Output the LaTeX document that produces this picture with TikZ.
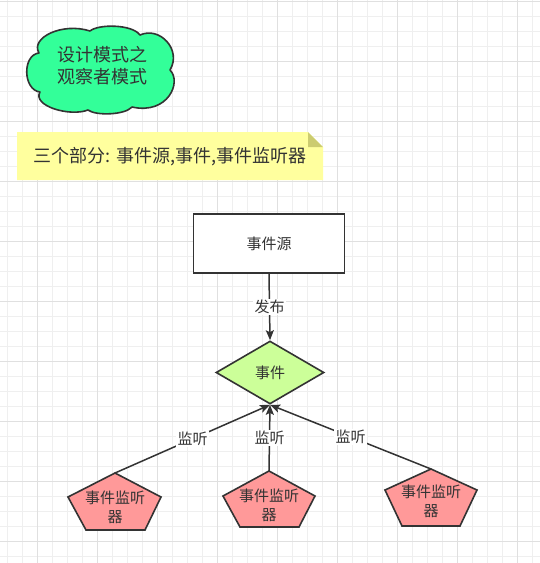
\documentclass[tikz,border=0pt]{standalone}
\usepackage{fontspec}
\setmainfont{Noto Sans CJK SC}
\usetikzlibrary{shapes.geometric,arrows.meta}
\definecolor{ln}{HTML}{333333}
\definecolor{gminor}{HTML}{EFEFEF}
\definecolor{gmajor}{HTML}{E0E0E0}
\definecolor{cloudg}{HTML}{33FF99}
\definecolor{noteY}{HTML}{FFFF9E}
\definecolor{noteF}{HTML}{CCCC70}
\definecolor{diaG}{HTML}{CCFF99}
\definecolor{penR}{HTML}{FF9999}
\tikzset{
  minorline/.style={gminor,line width=0.8pt},
  majorline/.style={gmajor,line width=0.8pt},
  bord/.style={draw=ln,line width=1.6pt},
  conn/.style={draw=ln,line width=1.5pt,-{Stealth[length=10pt,width=8pt,inset=2pt]}},
  lbl/.style={fill=white,inner sep=1.5pt,font=\fontsize{15}{18}\selectfont,text=ln},
  txt15/.style={font=\fontsize{15}{19}\selectfont,text=ln,align=center},
  txt18/.style={font=\fontsize{18}{22}\selectfont,text=ln,align=center}
}
\begin{document}
\begin{tikzpicture}[x=1pt,y=-1pt]
\useasboundingbox (0,0) rectangle (540,563);
\fill[white] (0,0) rectangle (540,563);
% grid
\foreach \x in {7.3,22.3,...,540} \draw[minorline] (\x,0) -- (\x,563);
\foreach \y in {1.7,16.7,...,563} \draw[minorline] (0,\y) -- (540,\y);
\foreach \x in {37.3,97.3,...,540} \draw[majorline] (\x,0) -- (\x,563);
\foreach \y in {1.7,61.7,...,563} \draw[majorline] (0,\y) -- (540,\y);
% cloud
\draw[bord, fill=cloudg, line join=round]
  (39,53) .. controls (30,38) and (62,22) .. (90,31)
          .. controls (98,24) and (132,24) .. (140,35)
          .. controls (160,26) and (182,50) .. (170,70)
          .. controls (182,82) and (168,115) .. (132,107)
          .. controls (125,115) and (96,116) .. (88,110)
          .. controls (70,117) and (32,106) .. (40,92)
          .. controls (23,90) and (22,55) .. (39,53) -- cycle;
\node[txt18] (title) at (102,66) {设计模式之\\观察者模式};
% note
\fill[noteY] (17,132) -- (308,132) -- (323,147) -- (323,180) -- (17,180) -- cycle;
\fill[noteF] (308,132) -- (323,147) -- (308,147) -- cycle;
\node[txt18] (note) at (170,157) {三个部分: 事件源,事件,事件监听器};
% source
\node[rectangle, bord, fill=white, minimum width=151pt, minimum height=59pt, txt15] (src) at (269,243.5) {事件源};
% event diamond
\node[diamond, bord, fill=diaG, inner sep=0pt, minimum width=108pt, minimum height=63pt, txt15] (ev) at (270,372.5) {事件};
% listeners
\coordinate (l1t) at (115,473);
\coordinate (l2t) at (269,471);
\coordinate (l3t) at (431,469);
\draw[bord, fill=penR] (l1t) -- (161,497) -- (145,530) -- (86,530) -- (68,497) -- cycle;
\draw[bord, fill=penR] (l2t) -- (315,496) -- (299,527) -- (240,527) -- (223,496) -- cycle;
\draw[bord, fill=penR] (l3t) -- (477,490) -- (460,526) -- (402,526) -- (385,490) -- cycle;
\node[txt15] (l1) at (115,507) {事件监听\\器};
\node[txt15] (l2) at (269,505) {事件监听\\器};
\node[txt15] (l3) at (431,501) {事件监听\\器};
% connectors
\draw[conn] (src.south) -- node[lbl] {发布} (ev.north);
\draw[conn] (l1t) -- node[lbl] {监听} (ev.south);
\draw[conn] (l2t) -- node[lbl] {监听} (ev.south);
\draw[conn] (l3t) -- node[lbl] {监听} (ev.south);
\end{tikzpicture}
\end{document}
